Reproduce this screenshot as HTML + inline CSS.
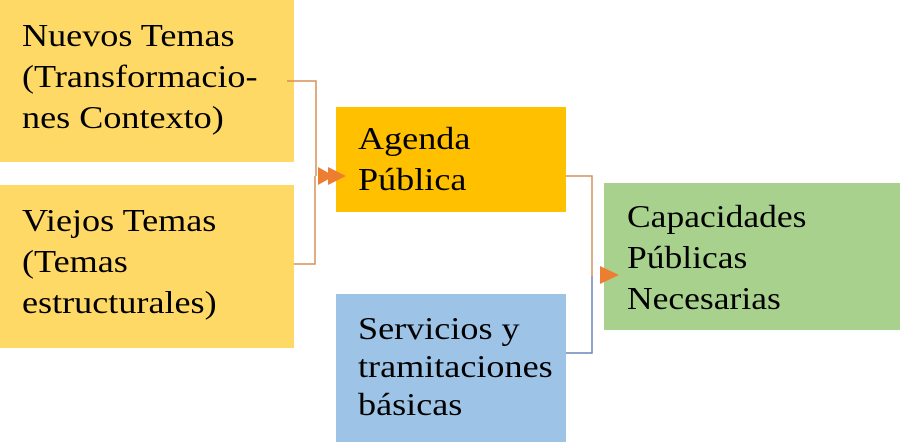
<!DOCTYPE html>
<html><head><meta charset="utf-8"><style>
html,body{margin:0;padding:0;background:#fff;}
svg text{font-family:"Liberation Serif",serif;font-size:32px;fill:#000;}
</style></head><body>
<svg width="900" height="442" viewBox="0 0 900 442" xmlns="http://www.w3.org/2000/svg">
<rect x="0" y="0" width="294" height="162" fill="#FFD966"/>
<rect x="0" y="185" width="294" height="163" fill="#FFD966"/>
<rect x="336" y="107" width="230" height="105" fill="#FFC000"/>
<rect x="336" y="294" width="230" height="148" fill="#9DC3E6"/>
<rect x="604" y="183" width="296" height="147" fill="#A9D18E"/>
<g fill="none" stroke-width="1.5">
<path d="M287 81 H316 V176" stroke="#D9905A"/>
<path d="M294 264 H315 V176" stroke="#D9905A"/>
<path d="M566 176 H592 V276" stroke="#D9905A"/>
<path d="M566 353 H592 V276" stroke="#6A86B8"/>
</g>
<polygon points="318,167 334,176 318,185" fill="#ED7D31"/>
<polygon points="328,167 346,176 328,185" fill="#ED7D31"/>
<polygon points="600,266 619,275 600,284" fill="#ED7D31"/>
<g transform="translate(22,0) scale(1.13,1)">
<text x="0" y="46">Nuevos Temas</text>
<text x="0" y="87">(Transformacio-</text>
<text x="0" y="128">nes Contexto)</text>
<text x="0" y="231">Viejos Temas</text>
<text x="0" y="272">(Temas</text>
<text x="0" y="313">estructurales)</text>
</g>
<g transform="translate(358,0) scale(1.13,1)">
<text x="0" y="149">Agenda</text>
<text x="0" y="190">Pública</text>
<text x="0" y="339">Servicios y</text>
<text x="0" y="377">tramitaciones</text>
<text x="0" y="415">básicas</text>
</g>
<g transform="translate(627,0) scale(1.11,1)">
<text x="0" y="227">Capacidades</text>
<text x="0" y="268">Públicas</text>
<text x="0" y="309">Necesarias</text>
</g>
</svg>
</body></html>
